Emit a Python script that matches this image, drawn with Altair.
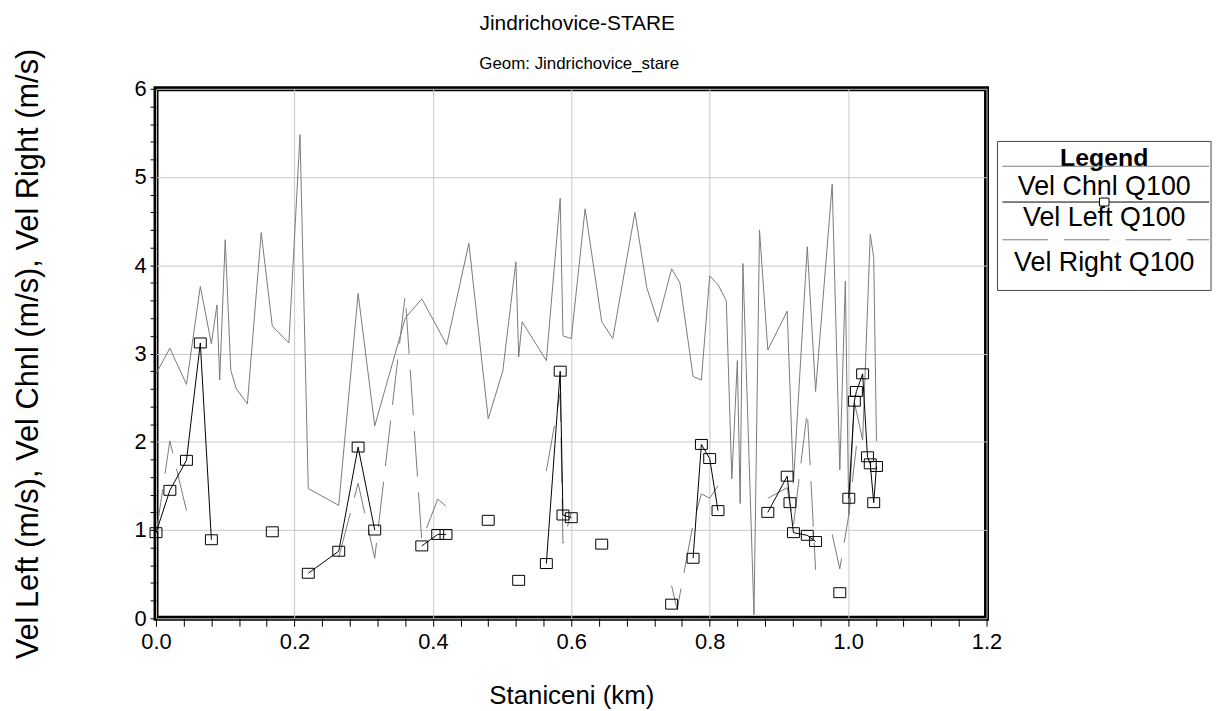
import altair as alt
import pandas as pd

# ---------------- data ----------------
chnl_km = [0.000, 0.020, 0.044, 0.064, 0.080, 0.088, 0.092, 0.100, 0.108, 0.116,
           0.132, 0.152, 0.168, 0.192, 0.208, 0.220, 0.264, 0.292, 0.316, 0.360,
           0.384, 0.420, 0.452, 0.480, 0.501, 0.520, 0.524, 0.529, 0.564, 0.584,
           0.588, 0.600, 0.620, 0.644, 0.660, 0.692, 0.709, 0.725, 0.745, 0.757,
           0.776, 0.788, 0.800, 0.812, 0.824, 0.832, 0.840, 0.844, 0.848, 0.864,
           0.872, 0.884, 0.912, 0.921, 0.941, 0.953, 0.977, 0.988, 0.996, 1.001,
           1.009, 1.021, 1.032, 1.037, 1.041]
chnl_vel = [2.77, 3.06, 2.65, 3.76, 3.11, 3.55, 2.70, 4.29, 2.81, 2.60,
            2.43, 4.37, 3.31, 3.12, 5.48, 1.47, 1.28, 3.68, 2.18, 3.40,
            3.62, 3.10, 4.25, 2.26, 2.80, 4.04, 2.96, 3.36, 2.92, 4.76,
            3.20, 3.17, 4.64, 3.36, 3.17, 4.60, 3.75, 3.36, 3.96, 3.80,
            2.74, 2.70, 3.88, 3.78, 3.60, 1.58, 2.92, 1.30, 4.02, 0.04,
            4.40, 3.04, 3.48, 1.53, 4.21, 2.57, 4.92, 1.68, 3.82, 1.17,
            2.45, 2.02, 4.35, 4.09, 2.01]

# None marks a break in the line
left_km = [0.000, 0.020, 0.044, 0.064, 0.080, None,
           0.168, None,
           0.220, 0.264, 0.292, 0.316, None,
           0.384, 0.407, 0.419, None,
           0.480, None,
           0.524, None,
           0.564, 0.584, 0.588, 0.600, None,
           0.644, None,
           0.745, None,
           0.776, 0.788, 0.800, 0.812, None,
           0.884, 0.912, 0.916, 0.921, 0.941, 0.953, None,
           0.988, None,
           1.001, 1.009, 1.012, 1.021, 1.028, 1.032, 1.037, 1.041]
left_vel = [0.97, 1.45, 1.79, 3.12, 0.89, None,
            0.98, None,
            0.51, 0.76, 1.94, 1.00, None,
            0.82, 0.95, 0.95, None,
            1.11, None,
            0.43, None,
            0.62, 2.80, 1.17, 1.14, None,
            0.84, None,
            0.16, None,
            0.68, 1.97, 1.81, 1.22, None,
            1.20, 1.61, 1.31, 0.97, 0.94, 0.87, None,
            0.29, None,
            1.36, 2.46, 2.57, 2.77, 1.83, 1.75, 1.31, 1.72]

right_km = [0.000, 0.020, 0.044, None,
            0.264, 0.292, 0.316, 0.360, 0.384, 0.407, 0.419, None,
            0.564, 0.584, 0.588, 0.600, None,
            0.745, 0.753, 0.776, 0.788, 0.800, 0.812, None,
            0.884, 0.912, 0.921, 0.941, 0.953, None,
            0.977, 0.988, 1.001, 1.009, 1.012]
right_vel = [0.95, 2.01, 1.22, None,
             0.69, 1.53, 0.68, 3.66, 0.88, 1.35, 1.27, None,
             1.67, 2.55, 0.85, 1.20, None,
             0.37, 0.10, 1.07, 1.41, 1.36, 1.50, None,
             1.36, 1.48, 1.05, 2.35, 0.55, None,
             0.95, 0.56, 1.17, 1.75, 1.95]

x_ticks = [0.0, 0.04, 0.08, 0.12, 0.16, 0.2, 0.24, 0.28, 0.32, 0.36, 0.4,
           0.44, 0.48, 0.52, 0.56, 0.6, 0.64, 0.68, 0.72, 0.76, 0.8,
           0.84, 0.88, 0.92, 0.96, 1.0, 1.04, 1.08, 1.12, 1.16, 1.2]
y_ticks = [0, 0.2, 0.4, 0.6, 0.8, 1, 1.2, 1.4, 1.6, 1.8, 2, 2.2, 2.4, 2.6, 2.8,
           3, 3.2, 3.4, 3.6, 3.8, 4, 4.2, 4.4, 4.6, 4.8, 5, 5.2, 5.4, 5.6, 5.8, 6]

title_text = "Jindrichovice-STARE"
subtitle_text = "Geom: Jindrichovice_stare"
legend_labels = ["Vel Chnl Q100", "Vel Left Q100", "Vel Right Q100"]


def to_frame(km, vel):
    rows, seg = [], 0
    for k, v in zip(km, vel):
        if k is None or v is None:
            seg += 1
            continue
        rows.append({"km": k, "vel": v, "seg": seg})
    return pd.DataFrame(rows)


chnl_df = to_frame(chnl_km, chnl_vel)
left_df = to_frame(left_km, left_vel)
right_df = to_frame(right_km, right_vel)

FONT = "Liberation Sans, Arial, sans-serif"
W, H = 836, 533
SQUARE = "M-1.2,-1L1.2,-1L1.2,1L-1.2,1Z"
X_MAJOR = "abs(datum.value*5 - round(datum.value*5)) < 0.001"
Y_MAJOR = "abs(datum.value - round(datum.value)) < 0.001"

x_enc = alt.X("km:Q", scale=alt.Scale(domain=[0, 1.2], nice=False, zero=False),
              axis=alt.Axis(values=x_ticks, tickCount=1000, title="Staniceni (km)",
                            labelExpr=X_MAJOR + " ? format(datum.value, '.1f') : ''",
                            labelOverlap=False, labelFlush=False, labelFontSize=22,
                            titleFontSize=26,
                            grid=True, gridColor="#c8c8c8", gridWidth=1,
                            gridOpacity={"condition": {"test": "!(" + X_MAJOR + ")", "value": 0}, "value": 1},
                            tickSize=8, tickColor="black", tickWidth=1,
                            labelPadding=5, titlePadding=31, domain=False))
y_enc = alt.Y("vel:Q", scale=alt.Scale(domain=[0, 6], nice=False),
              axis=alt.Axis(values=y_ticks, tickCount=1000,
                            title="Vel Left (m/s), Vel Chnl (m/s), Vel Right (m/s)",
                            labelExpr=Y_MAJOR + " ? format(datum.value, 'd') : ''",
                            labelOverlap=False, labelFlush=False, labelFontSize=22,
                            titleFontSize=31,
                            grid=True, gridColor="#c8c8c8", gridWidth=1,
                            gridOpacity={"condition": {"test": "!(" + Y_MAJOR + ")", "value": 0}, "value": 1},
                            tickSize=6, tickColor="black", tickWidth=1,
                            labelPadding=4, titlePadding=90, domain=False))

chnl = alt.Chart(chnl_df).mark_line(color="#7a7a7a", strokeWidth=1).encode(x=x_enc, y=y_enc)
right = alt.Chart(right_df).mark_line(color="#7a7a7a", strokeWidth=1, strokeDash=[46, 16]).encode(
    x="km:Q", y="vel:Q", detail="seg:N")
left = alt.Chart(left_df).mark_line(color="black", strokeWidth=1).encode(
    x="km:Q", y="vel:Q", detail="seg:N")
left_pts = alt.Chart(left_df).mark_point(shape=SQUARE, size=100, filled=False, color="black",
                                         strokeWidth=1, opacity=1).encode(x="km:Q", y="vel:Q")

one = pd.DataFrame({"a": [0]})

# ---------------- titles (placed above the plot area) ----------------
t_main = alt.Chart(one).mark_text(text=title_text, font=FONT, fontSize=21, color="black",
                                  align="center", baseline="middle").encode(
    x=alt.value(424), y=alt.value(-65))
t_sub = alt.Chart(one).mark_text(text=subtitle_text, font=FONT, fontSize=17, color="black",
                                 align="center", baseline="middle").encode(
    x=alt.value(426), y=alt.value(-25))

# ---------------- legend box (outside the plot area, right side) ----------------
LX0, LX1 = 847, 1062
LCX = (LX0 + LX1) / 2
LFS = 27
box = alt.Chart(one).mark_rect(fill="white", stroke="#444444", strokeWidth=1).encode(
    x=alt.value(LX0), x2=alt.value(LX1), y=alt.value(53), y2=alt.value(203))
hdr = alt.Chart(one).mark_text(text="Legend", font=FONT, fontSize=25, fontWeight="bold",
                               baseline="middle", align="center", color="black").encode(
    x=alt.value(LCX), y=alt.value(70))
line_c = alt.Chart(one).mark_rule(color="#7a7a7a", strokeWidth=1).encode(
    x=alt.value(LX0 + 5), x2=alt.value(LX1 - 2), y=alt.value(78))
txt_c = alt.Chart(one).mark_text(text=legend_labels[0], font=FONT, fontSize=LFS,
                                 baseline="middle", align="center", color="black").encode(
    x=alt.value(LCX), y=alt.value(99))
line_l = alt.Chart(one).mark_rule(color="black", strokeWidth=1).encode(
    x=alt.value(LX0 + 5), x2=alt.value(LX1 - 2), y=alt.value(114))
pt_l = alt.Chart(one).mark_point(shape=SQUARE, size=64, filled=True, fill="white", stroke="black",
                                 strokeWidth=1, opacity=1).encode(x=alt.value(LCX), y=alt.value(114))
txt_l = alt.Chart(one).mark_text(text=legend_labels[1], font=FONT, fontSize=LFS,
                                 baseline="middle", align="center", color="black").encode(
    x=alt.value(LCX), y=alt.value(130))
line_r = alt.Chart(one).mark_rule(color="#7a7a7a", strokeWidth=1, strokeDash=[46, 16]).encode(
    x=alt.value(LX0 + 5), x2=alt.value(LX1 - 2), y=alt.value(152))
txt_r = alt.Chart(one).mark_text(text=legend_labels[2], font=FONT, fontSize=LFS,
                                 baseline="middle", align="center", color="black").encode(
    x=alt.value(LCX), y=alt.value(175))

chart = alt.layer(
    chnl, right, left, left_pts, t_main, t_sub,
    box, hdr, line_c, txt_c, line_l, pt_l, txt_l, line_r, txt_r
).properties(
    width=W, height=H,
    autosize=alt.AutoSizeParams(type="none"),
    padding={"left": 149, "top": 79, "right": 232, "bottom": 89},
).configure_view(
    stroke="black", strokeWidth=5
).configure_axis(
    labelFont=FONT, titleFont=FONT,
    labelColor="black", titleColor="black", titleFontWeight="normal"
)

chart.save("out.html", embed_options={"renderer": "svg", "actions": False})
